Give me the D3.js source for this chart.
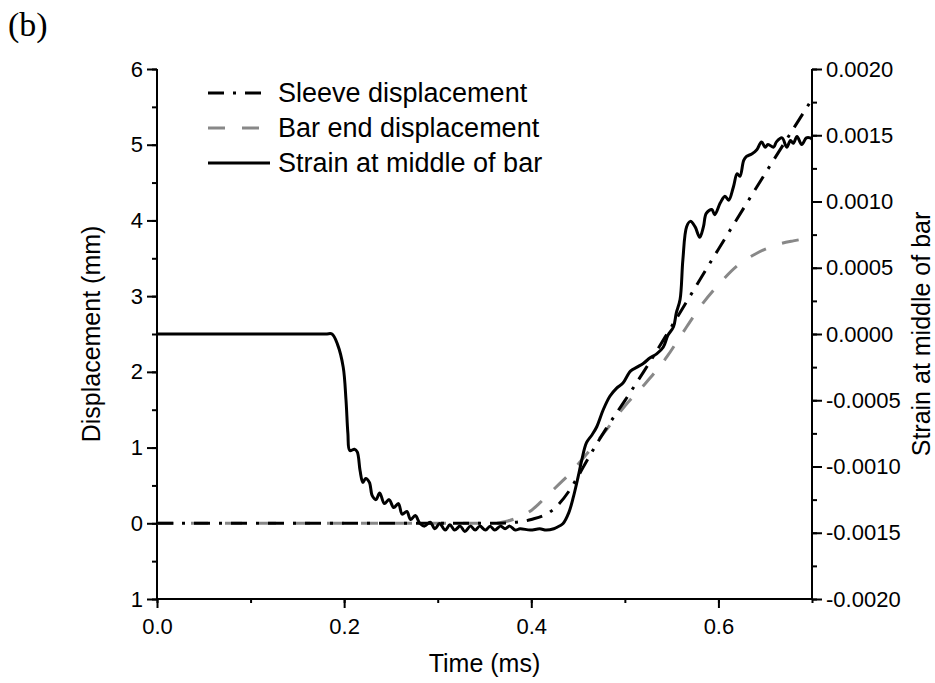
<!DOCTYPE html>
<html lang="en-US">

<head>
    <meta charset="UTF-8" />
    <title>Displacement and strain</title>
    <style>
        body {
            margin: 0;
            background: #fff;
        }

        text {
            font-family: "Liberation Sans", Arial, sans-serif;
            fill: #000;
        }

        .tick text {
            font-size: 22px;
        }
    </style>
    <script src="https://d3js.org/d3.v7.min.js"></script>
</head>

<body>
    <div id="container"></div>
    <script>
        // strain at middle of bar (right axis)
        const strainTime = [0, 0.18, 0.187, 0.193, 0.199, 0.202, 0.204, 0.206, 0.211, 0.214, 0.217, 0.220, 0.223, 0.227,
            0.230, 0.234, 0.238, 0.243, 0.248, 0.253, 0.258, 0.262, 0.267, 0.271, 0.276, 0.281, 0.286, 0.292, 0.297,
            0.302, 0.308, 0.313, 0.318, 0.324, 0.329, 0.335, 0.340, 0.345, 0.351, 0.356, 0.361, 0.367, 0.372, 0.377,
            0.383, 0.388, 0.399, 0.409, 0.416, 0.424, 0.427, 0.434, 0.440, 0.445, 0.450, 0.454, 0.459, 0.465, 0.470,
            0.477, 0.484, 0.491, 0.498, 0.506, 0.513, 0.520, 0.527, 0.534, 0.541, 0.546, 0.552, 0.555, 0.559, 0.562,
            0.566, 0.570, 0.575, 0.580, 0.584, 0.587, 0.593, 0.596, 0.602, 0.607, 0.611, 0.616, 0.620, 0.623, 0.627,
            0.630, 0.636, 0.641, 0.646, 0.650, 0.653, 0.659, 0.662, 0.668, 0.673, 0.677, 0.680, 0.684, 0.689, 0.694,
            0.698, 0.700];
        const strainValue = [0, 0, 0, -0.00008, -0.00025, -0.0005, -0.00075, -0.00088, -0.00087, -0.00089, -0.00103,
            -0.00112, -0.00109, -0.00112, -0.00122, -0.00125, -0.0012, -0.00128, -0.00125, -0.00131, -0.00128,
            -0.00136, -0.00134, -0.0014, -0.00137, -0.00143, -0.00145, -0.00142, -0.00147, -0.00143, -0.00148,
            -0.00144, -0.00148, -0.00145, -0.00149, -0.00145, -0.00148, -0.00145, -0.00148, -0.00145, -0.00148,
            -0.00145, -0.00147, -0.00145, -0.00148, -0.00147, -0.00148, -0.00147, -0.00148, -0.00147, -0.00146,
            -0.00143, -0.00135, -0.00123, -0.00108, -0.00095, -0.00082, -0.00076, -0.0007, -0.00057, -0.00047,
            -0.00041, -0.00037, -0.00028, -0.00025, -0.00022, -0.00018, -0.00015, -0.0001, -0.00001, 0.000055,
            0.00016, 0.00026, 0.00056, 0.00081, 0.00085, 0.00081, 0.00073, 0.00081, 0.00091, 0.00094, 0.0009,
            0.00099, 0.00104, 0.00101, 0.00111, 0.00121, 0.00119, 0.00131, 0.00134, 0.00136, 0.00139, 0.00145,
            0.00141, 0.00143, 0.00141, 0.00145, 0.00148, 0.00141, 0.00146, 0.00144, 0.00149, 0.00143, 0.00148,
            0.00148, 0.00147];

        // sleeve displacement (left axis, mm)
        const sleeveTime = [0, 0.36, 0.38, 0.40, 0.42, 0.43, 0.44, 0.45, 0.46, 0.48, 0.50, 0.52, 0.55, 0.60, 0.65, 0.70];
        const sleeveValue = [0, 0, 0.01, 0.05, 0.15, 0.26, 0.42, 0.62, 0.84, 1.25, 1.62, 2.0, 2.6, 3.62, 4.62, 5.6];

        // bar end displacement (left axis, mm)
        const barTime = [0, 0.36, 0.375, 0.39, 0.40, 0.41, 0.42, 0.43, 0.44, 0.45, 0.465, 0.48, 0.50, 0.52, 0.545,
            0.56, 0.58, 0.60, 0.62, 0.64, 0.66, 0.68, 0.70];
        const barValue = [0, 0, 0.03, 0.1, 0.17, 0.28, 0.40, 0.52, 0.64, 0.78, 1.0, 1.23, 1.55, 1.82, 2.2, 2.48,
            2.85, 3.15, 3.4, 3.56, 3.67, 3.73, 3.77];

        const timeTicks = [0, 0.2, 0.4, 0.6];
        const dispTicks = [-1, 0, 1, 2, 3, 4, 5, 6];
        const strainTicks = [-0.002, -0.0015, -0.001, -0.0005, 0, 0.0005, 0.001, 0.0015, 0.002];

        const legendNames = ["Sleeve displacement", "Bar end displacement", "Strain at middle of bar"];

        document.addEventListener("DOMContentLoaded", function () {
            const width = 935;
            const height = 683;
            const left = 157, right = 812, top = 69, bottom = 599;

            const svg = d3
                .select("#container")
                .append("svg")
                .attr("width", width)
                .attr("height", height);

            const x = d3.scaleLinear().domain([0, 0.7]).range([left, right]);
            const yDisp = d3.scaleLinear().domain([-1, 6]).range([bottom, top]);
            const yStrain = d3.scaleLinear().domain([-0.002, 0.002]).range([bottom, top]);

            const hyphen = (s) => s.replace("\u2212", "-");

            // minor ticks first
            svg.append("g")
                .attr("transform", `translate(0,${bottom})`)
                .call(d3.axisBottom(x).tickValues(d3.range(0, 0.71, 0.1)).tickSize(4).tickFormat(""))
                .call((g) => g.select(".domain").remove());
            svg.append("g")
                .attr("transform", `translate(${left},0)`)
                .call(d3.axisLeft(yDisp).tickValues(d3.range(-1, 6.01, 0.5)).tickSize(5).tickFormat(""))
                .call((g) => g.select(".domain").remove());
            svg.append("g")
                .attr("transform", `translate(${right},0)`)
                .call(d3.axisRight(yStrain).tickValues(d3.range(-0.002, 0.00201, 0.00025)).tickSize(5).tickFormat(""))
                .call((g) => g.select(".domain").remove());

            // major axes
            const xAxis = svg.append("g")
                .attr("transform", `translate(0,${bottom})`)
                .call(d3.axisBottom(x).tickValues(timeTicks).tickSize(9).tickPadding(10)
                    .tickFormat(d3.format(".1f")));
            const leftAxis = svg.append("g")
                .attr("transform", `translate(${left},0)`)
                .call(d3.axisLeft(yDisp).tickValues(dispTicks).tickSize(10).tickPadding(4)
                    .tickFormat((d) => String(Math.abs(d))));
            const rightAxis = svg.append("g")
                .attr("transform", `translate(${right},0)`)
                .call(d3.axisRight(yStrain).tickValues(strainTicks).tickSize(10).tickPadding(4)
                    .tickFormat((d) => hyphen(d3.format(".4f")(d))));

            svg.selectAll(".domain, .tick line").attr("stroke", "#000").attr("stroke-width", 2);
            svg.selectAll(".tick text").attr("fill", "#000").style("font-size", "22px");
            leftAxis.select(".domain").attr("d", `M0,${bottom}V${top}`);
            rightAxis.select(".domain").attr("d", `M0,${top}V${bottom}`);
            xAxis.select(".domain").attr("d", `M${left},0H${right}`);

            const dispLine = d3.line().x((d) => x(d[0])).y((d) => yDisp(d[1])).curve(d3.curveMonotoneX);
            const strainLine = d3.line().x((d) => x(d[0])).y((d) => yStrain(d[1])).curve(d3.curveCatmullRom.alpha(0.5));

            const sleeve = sleeveTime.map((t, i) => [t, sleeveValue[i]]);
            const bar = barTime.map((t, i) => [t, barValue[i]]);
            const strain = strainTime.map((t, i) => [t, strainValue[i]]);

            const styles = [
                { color: "#000", dash: "16,9,3,9" },
                { color: "#888", dash: "17,17" },
                { color: "#000", dash: null },
            ];

            svg.append("path")
                .datum(bar)
                .attr("fill", "none")
                .attr("stroke", styles[1].color)
                .attr("stroke-width", 3)
                .attr("stroke-dasharray", styles[1].dash)
                .attr("d", dispLine);

            svg.append("path")
                .datum(sleeve)
                .attr("fill", "none")
                .attr("stroke", styles[0].color)
                .attr("stroke-width", 3)
                .attr("stroke-dasharray", styles[0].dash)
                .attr("d", dispLine);

            svg.append("path")
                .datum(strain)
                .attr("fill", "none")
                .attr("stroke", styles[2].color)
                .attr("stroke-width", 3)
                .attr("stroke-linejoin", "round")
                .attr("d", strainLine);

            // legend
            const legend = svg.append("g");
            legendNames.forEach((name, i) => {
                const ly = [93, 128, 163][i];
                legend.append("line")
                    .attr("x1", 208).attr("x2", 270)
                    .attr("y1", ly).attr("y2", ly)
                    .attr("stroke", styles[i].color)
                    .attr("stroke-width", 3)
                    .attr("stroke-dasharray", styles[i].dash);
                legend.append("text")
                    .attr("x", 278).attr("y", ly)
                    .attr("dy", "0.35em")
                    .style("font-size", "27px")
                    .text(name);
            });

            // axis titles
            svg.append("text")
                .attr("x", (left + right) / 2).attr("y", 672)
                .attr("text-anchor", "middle")
                .style("font-size", "25px")
                .text("Time (ms)");
            svg.append("text")
                .attr("transform", `translate(100,${(top + bottom) / 2}) rotate(-90)`)
                .attr("text-anchor", "middle")
                .style("font-size", "25px")
                .text("Displacement (mm)");
            svg.append("text")
                .attr("transform", `translate(930,${(top + bottom) / 2}) rotate(-90)`)
                .attr("text-anchor", "middle")
                .style("font-size", "25px")
                .text("Strain at middle of bar");

            svg.append("text")
                .attr("x", 8).attr("y", 36)
                .style("font-family", "'Liberation Serif', 'Times New Roman', serif")
                .style("font-size", "34px")
                .text("(b)");
        });
    </script>
</body>

</html>
